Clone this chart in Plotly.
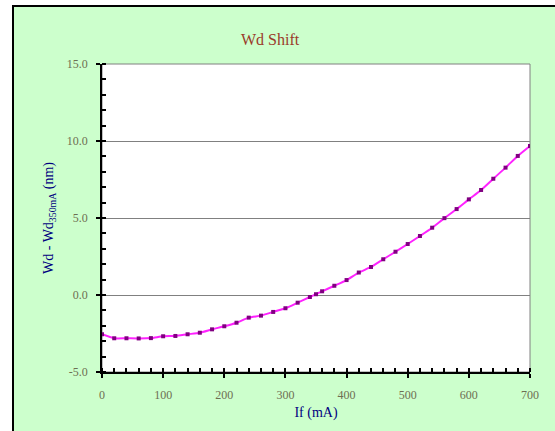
import plotly.graph_objects as go

# Forward current (mA) and wavelength shift relative to 350 mA (nm)
current_ma = [0, 20, 40, 60, 80, 100, 120, 140, 160, 180, 200, 220, 240, 260, 280,
              300, 320, 340, 350, 360, 380, 400, 420, 440, 460, 480, 500, 520, 540,
              560, 580, 600, 620, 640, 660, 680, 700]
wd_shift = [-2.55, -2.81, -2.81, -2.82, -2.80, -2.68, -2.66, -2.55, -2.45, -2.23,
            -2.03, -1.80, -1.47, -1.34, -1.10, -0.86, -0.50, -0.13, 0.05, 0.24,
            0.60, 0.97, 1.46, 1.82, 2.32, 2.81, 3.31, 3.83, 4.37, 4.99, 5.58,
            6.21, 6.82, 7.55, 8.27, 9.03, 9.68]

x_ticks = [0, 100, 200, 300, 400, 500, 600, 700]
y_ticks = [-5.0, 0.0, 5.0, 10.0, 15.0]

W, H = 555, 431
L, R, T, B = 102, 25, 64, 59
pw, ph = W - L - R, H - T - B


def px_to_paper_x(px):
    return (px - L) / pw


def px_to_paper_y(py):
    return (H - B - py) / ph


serif = "Liberation Serif, Times New Roman, serif"
tick_color = "#6e6e52"

fig = go.Figure()
fig.add_trace(go.Scatter(
    x=current_ma, y=wd_shift, mode="lines+markers",
    line=dict(color="#ff22ff", width=2, shape="spline", smoothing=0.6),
    marker=dict(symbol="square", size=4, color="#800080"),
    showlegend=False,
))

fig.update_layout(
    width=W, height=H,
    margin=dict(l=L, r=R, t=T, b=B),
    paper_bgcolor="white",
    plot_bgcolor="white",
    shapes=[
        # green chart frame
        dict(type="rect", xref="paper", yref="paper", layer="below",
             x0=px_to_paper_x(13), x1=px_to_paper_x(620),
             y0=px_to_paper_y(500), y1=px_to_paper_y(6),
             fillcolor="#ccffcc", line=dict(color="black", width=2)),
        # white plot area with gray border
        dict(type="rect", xref="paper", yref="paper", layer="below",
             x0=0, x1=1, y0=0, y1=1,
             fillcolor="white", line=dict(color="#808080", width=1)),
    ],
    annotations=[
        dict(text="Wd Shift", xref="paper", yref="paper",
             x=px_to_paper_x(270), y=px_to_paper_y(40),
             xanchor="center", yanchor="middle", showarrow=False,
             font=dict(family=serif, size=16, color="#9a3b2a")),
    ],
    xaxis=dict(
        range=[0, 700], tickvals=x_ticks, ticktext=[str(v) for v in x_ticks],
        showgrid=False, zeroline=False,
        showline=True, linecolor="black", linewidth=1.5,
        ticks="outside", ticklen=4, tickcolor="black", tickwidth=1.5,
        ticklabelstandoff=7,
        minor=dict(dtick=20, ticks="inside", ticklen=4, tickcolor="black",
                   tickwidth=1.5, showgrid=False),
        tickfont=dict(family=serif, size=12, color=tick_color),
        title=dict(text="If (mA)", standoff=6,
                   font=dict(family=serif, size=14, color="#000080")),
    ),
    yaxis=dict(
        range=[-5, 15], tickvals=y_ticks, ticktext=[f"{v:.1f}" for v in y_ticks],
        showgrid=True, gridcolor="#808080", gridwidth=1, zeroline=False,
        showline=True, linecolor="black", linewidth=1.5,
        ticks="outside", ticklen=4, tickcolor="black", tickwidth=1.5,
        ticklabelstandoff=6,
        minor=dict(dtick=1, ticks="inside", ticklen=4, tickcolor="black",
                   tickwidth=1.5, showgrid=False),
        tickfont=dict(family=serif, size=12, color=tick_color),
        title=dict(text="Wd - Wd<sub>350mA</sub> (nm)", standoff=10,
                   font=dict(family=serif, size=14, color="#000080")),
    ),
)

fig.write_html("out.html")
